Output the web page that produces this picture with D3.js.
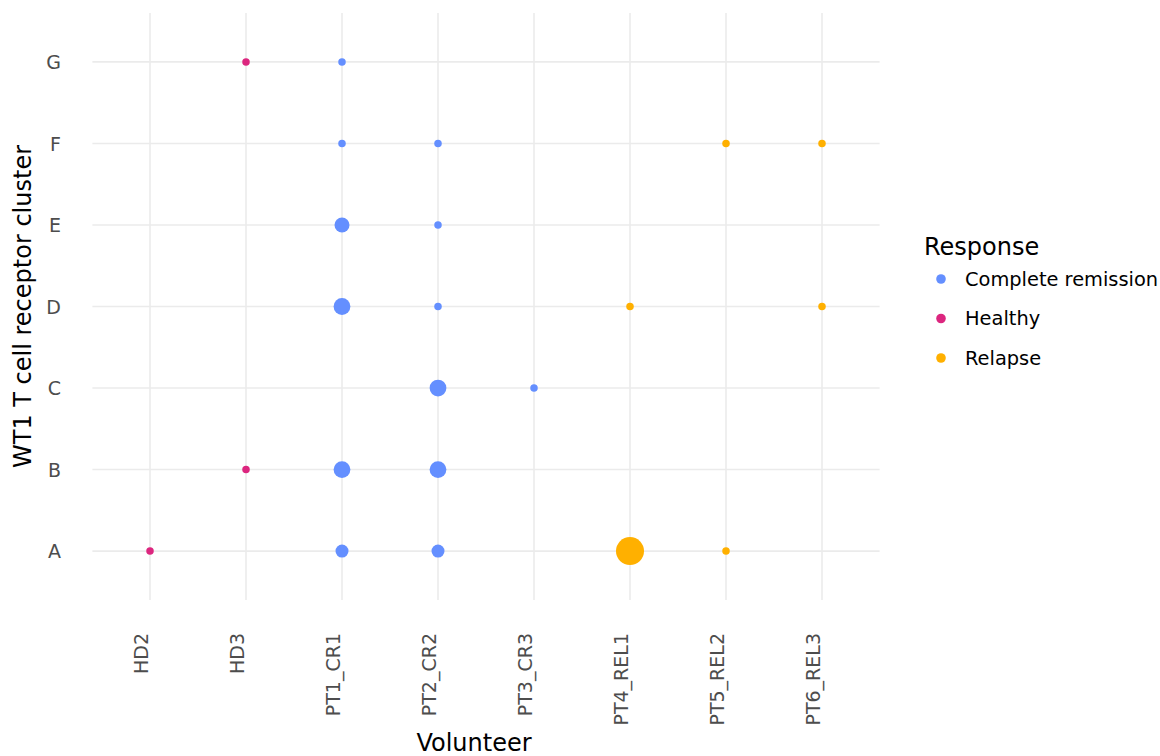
<!DOCTYPE html>
<html>
<head>
<meta charset="utf-8">
<script src="https://cdn.jsdelivr.net/npm/d3@7"></script>
<style>
  html, body { margin: 0; padding: 0; background: #fff; }
  svg { display: block; font-family: "DejaVu Sans", sans-serif; }
</style>
</head>
<body>
<svg id="chart" width="1160" height="756"></svg>
<script>
// Categories
const volunteers = ["HD2", "HD3", "PT1_CR1", "PT2_CR2", "PT3_CR3", "PT4_REL1", "PT5_REL2", "PT6_REL3"];
const clusters = ["A", "B", "C", "D", "E", "F", "G"];
const responses = ["Complete remission", "Healthy", "Relapse"];
const responseColors = ["#648FFF", "#DC267F", "#FFB000"];

// One entry per observed (volunteer, cluster) pair
const pointVolunteer = ["HD2", "HD3", "HD3",
  "PT1_CR1", "PT1_CR1", "PT1_CR1", "PT1_CR1", "PT1_CR1", "PT1_CR1",
  "PT2_CR2", "PT2_CR2", "PT2_CR2", "PT2_CR2", "PT2_CR2", "PT2_CR2",
  "PT3_CR3", "PT4_REL1", "PT4_REL1", "PT5_REL2", "PT5_REL2", "PT6_REL3", "PT6_REL3"];
const pointCluster = ["A", "B", "G",
  "A", "B", "D", "E", "F", "G",
  "A", "B", "C", "D", "E", "F",
  "C", "A", "D", "A", "F", "D", "F"];
const pointCount = [1, 1, 1,
  3, 5, 5, 4, 1, 1,
  3, 5, 5, 1, 1, 1,
  1, 14, 1, 1, 1, 1, 1];
const pointResponse = ["Healthy", "Healthy", "Healthy",
  "Complete remission", "Complete remission", "Complete remission", "Complete remission", "Complete remission", "Complete remission",
  "Complete remission", "Complete remission", "Complete remission", "Complete remission", "Complete remission", "Complete remission",
  "Complete remission", "Relapse", "Relapse", "Relapse", "Relapse", "Relapse", "Relapse"];

const points = pointVolunteer.map((v, i) => ({
  volunteer: v, cluster: pointCluster[i], count: pointCount[i], response: pointResponse[i]
}));

const svg = d3.select("#chart");
const panel = { left: 92.4, right: 879.6, top: 13, bottom: 600 };

// Discrete scales with 0.6-step padding on each side
const x = d3.scalePoint().domain(volunteers).range([panel.left, panel.right]).padding(0.6);
const y = d3.scalePoint().domain(clusters).range([panel.bottom, panel.top]).padding(0.6);
const r = d3.scaleSqrt().domain([0, 1]).range([0, 3.75]).clamp(false);
const color = d3.scaleOrdinal().domain(responses).range(responseColors);

const gridColor = "#EBEBEB";
const tickColor = "#4D4D4D";

// Grid lines
const grid = svg.append("g");
grid.selectAll("line.h").data(clusters).join("line")
  .attr("x1", panel.left).attr("x2", panel.right)
  .attr("y1", d => y(d)).attr("y2", d => y(d))
  .attr("stroke", gridColor).attr("stroke-width", 1.6);
grid.selectAll("line.v").data(volunteers).join("line")
  .attr("y1", panel.top).attr("y2", panel.bottom)
  .attr("x1", d => x(d)).attr("x2", d => x(d))
  .attr("stroke", gridColor).attr("stroke-width", 1.6);

// Y axis
const yAxis = svg.append("g").attr("transform", "translate(70,0)")
  .call(d3.axisLeft(y).tickSize(0).tickPadding(9));
yAxis.select(".domain").remove();
yAxis.selectAll("text").attr("fill", tickColor).attr("font-size", 19)
  .attr("font-family", "DejaVu Sans").attr("dy", "0.36em");

// X axis with vertical labels
const xAxis = svg.append("g").attr("transform", `translate(0,${panel.bottom})`)
  .call(d3.axisBottom(x).tickSize(0));
xAxis.select(".domain").remove();
xAxis.selectAll("text")
  .attr("fill", tickColor).attr("font-size", 19).attr("font-family", "DejaVu Sans")
  .attr("text-anchor", "end")
  .attr("dy", null).attr("y", 0)
  .attr("transform", "translate(-3,33) rotate(-90)");

// Points
svg.append("g").selectAll("circle").data(points).join("circle")
  .attr("cx", d => x(d.volunteer))
  .attr("cy", d => y(d.cluster))
  .attr("r", d => r(d.count))
  .attr("fill", d => color(d.response));

// Axis titles
svg.append("text")
  .attr("x", 474).attr("y", 751)
  .attr("text-anchor", "middle").attr("font-size", 24).attr("fill", "#000")
  .text("Volunteer");
svg.append("text")
  .attr("transform", `translate(31,${(panel.top + panel.bottom) / 2}) rotate(-90)`)
  .attr("text-anchor", "middle").attr("font-size", 24).attr("fill", "#000")
  .text("WT1 T cell receptor cluster");

// Legend
const legend = svg.append("g").attr("transform", "translate(924,0)");
legend.append("text").attr("x", 0).attr("y", 255)
  .attr("font-size", 24).attr("fill", "#000").text("Response");
const items = legend.selectAll("g.item").data(responses).join("g")
  .attr("transform", (d, i) => `translate(0,${279 + i * 39.5})`);
items.append("circle").attr("cx", 17).attr("cy", 0).attr("r", 4.8)
  .attr("fill", d => color(d));
items.append("text").attr("x", 41).attr("y", 0).attr("dy", "0.36em")
  .attr("font-size", 19.4).attr("fill", "#000").text(d => d);
</script>
</body>
</html>
